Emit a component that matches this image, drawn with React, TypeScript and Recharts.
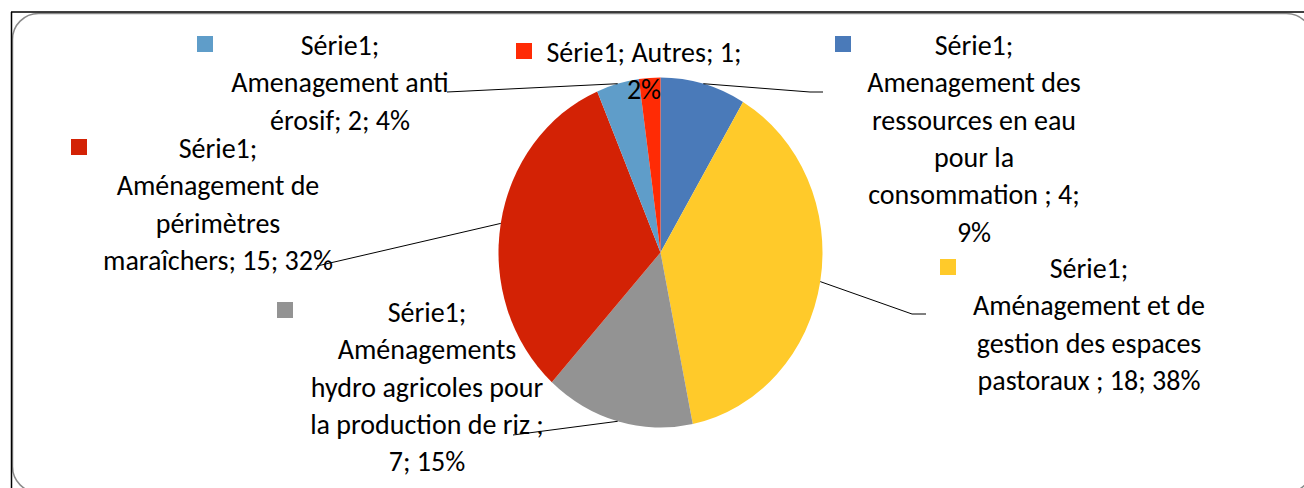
import React from 'react';
import { PieChart, Pie, Cell } from 'recharts';

// Série1, slices clockwise from 12 o'clock
const seriesName = 'Série1';
const categories = [
  'Amenagement des ressources en eau pour la consommation ',
  'Aménagement et de gestion des espaces pastoraux ',
  'Aménagements hydro agricoles pour la production de riz ',
  'Aménagement de périmètres maraîchers',
  'Amenagement anti érosif',
  'Autres',
];
const values = [4, 18, 7, 15, 2, 1];
const colors = ['#4A7AB9', '#FFCA2A', '#939393', '#D32205', '#5F9DC9', '#FF2B05'];

// data labels as Excel wrapped them
const labelLines = [
  ['Série1;', 'Amenagement des', 'ressources en eau', 'pour la', 'consommation ; 4;', '9%'],
  ['Série1;', 'Aménagement et de', 'gestion des espaces', 'pastoraux ; 18; 38%'],
  ['Série1;', 'Aménagements', 'hydro agricoles pour', 'la production de riz ;', '7; 15%'],
  ['Série1;', 'Aménagement de', 'périmètres', 'maraîchers; 15; 32%'],
  ['Série1;', 'Amenagement anti', 'érosif; 2; 4%'],
  ['Série1; Autres; 1;', '2%'],
];

// label placement (text centre, first baseline, legend key, leader bends)
const labelLayout = [
  { x: 974, y: 55, key: [835, 36], lead: [[810, 92], [823, 92]] },
  { x: 1089, y: 278, key: [940, 259], lead: [[912, 314], [926, 314]] },
  { x: 427, y: 322, key: [277, 302], lead: [[513, 435]] },
  { x: 218, y: 158, key: [71, 139], lead: [[317, 266]] },
  { x: 340, y: 55, key: [197, 36], lead: [[447, 92]] },
  { x: 644, y: 62, key: [516, 43], lead: [] },
];

const data = categories.map((name, i) => ({ name, value: values[i] }));

const W = 1304;
const H = 488;
const CX = 660.5;
const CY = 252.5;
const R = 162;
const STRETCH = 175 / 162; // the original pie is slightly taller than wide
const LH = 37.3;
const FONT = 'Carlito, Calibri, Lato, sans-serif';

function renderLabel(props: any) {
  const { cx, cy, midAngle, outerRadius, index } = props;
  const box = labelLayout[index];
  const rad = (-midAngle * Math.PI) / 180;
  const sx = cx + outerRadius * Math.cos(rad);
  const sy = cy + outerRadius * STRETCH * Math.sin(rad);
  const pts = [[sx, sy], ...box.lead].map((p) => p.join(',')).join(' ');
  return (
    <g transform={`translate(0 ${cy}) scale(1 ${1 / STRETCH}) translate(0 ${-cy})`}>
      {box.lead.length > 0 && <polyline points={pts} fill="none" stroke="#000" strokeWidth={1} />}
      <rect x={box.key[0]} y={box.key[1]} width={16} height={16} fill={colors[index]} />
      <text textAnchor="middle" fontFamily={FONT} fontSize={28} fill="#000">
        {labelLines[index].map((l, i) => (
          <tspan key={i} x={box.x} y={box.y + i * LH}>
            {l}
          </tspan>
        ))}
      </text>
    </g>
  );
}

export default function App() {
  return (
    <div style={{ position: 'absolute', left: 0, top: 0, width: W, height: H, overflow: 'hidden', background: '#fff' }}>
      <svg width={W} height={H} style={{ position: 'absolute', left: 0, top: 0 }}>
        <rect x={12.5} y={13.5} width={1300} height={479} rx={26} fill="#fff" stroke="#8a8a8a" strokeWidth={1.5} />
        <line x1={11} y1={12} x2={W} y2={12} stroke="#000" strokeWidth={1.5} />
        <line x1={11.5} y1={12} x2={11.5} y2={H} stroke="#000" strokeWidth={1.5} />
      </svg>
      <div
        style={{
          position: 'absolute',
          left: 0,
          top: 0,
          transform: `scaleY(${STRETCH})`,
          transformOrigin: `0px ${CY}px`,
        }}
      >
        <PieChart width={W} height={H} margin={{ top: 0, right: 0, bottom: 0, left: 0 }}>
          <Pie
            data={data}
            dataKey="value"
            nameKey="name"
            name={seriesName}
            cx={CX}
            cy={CY}
            outerRadius={R}
            startAngle={90}
            endAngle={-270}
            stroke="none"
            label={renderLabel}
            labelLine={false}
            isAnimationActive={false}
          >
            {data.map((d, i) => (
              <Cell key={d.name} fill={colors[i]} />
            ))}
          </Pie>
        </PieChart>
      </div>
    </div>
  );
}
